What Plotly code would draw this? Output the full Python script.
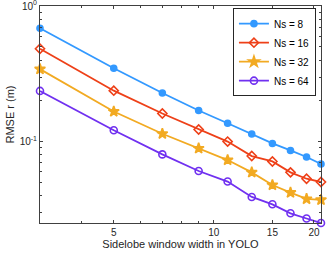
import plotly.graph_objects as go

x_vals = [3, 5, 7, 9, 11, 13, 15, 17, 19, 21]
ns8 = [0.686, 0.348, 0.229, 0.170, 0.137, 0.114, 0.0972, 0.0863, 0.0772, 0.0686]
ns16 = [0.485, 0.238, 0.1615, 0.1231, 0.1003, 0.0785, 0.0716, 0.0595, 0.0534, 0.0505]
ns32 = [0.343, 0.167, 0.1145, 0.0893, 0.0733, 0.0595, 0.0480, 0.0422, 0.0379, 0.0373]
ns64 = [0.237, 0.1216, 0.0807, 0.0609, 0.0509, 0.0392, 0.0346, 0.0297, 0.0272, 0.0252]
names = ["Ns = 8", "Ns = 16", "Ns = 32", "Ns = 64"]
x_ticks = [5, 10, 15, 20]
y_ticks = [0.1, 1]
y_ticktext = ["10<sup>-1</sup>", "10<sup>0</sup>"]

colors = ["#3399FF", "#EE4018", "#F2AA22", "#7030F0"]
symbols = ["circle", "diamond-open", "star", "circle-open"]
sizes = [6, 7, 8, 7]

fig = go.Figure()
for y, name, c, s, sz in zip([ns8, ns16, ns32, ns64], names, colors, symbols, sizes):
    fig.add_trace(go.Scatter(
        x=x_vals, y=y, name=name, mode="lines+markers",
        line=dict(color=c, width=1.8),
        marker=dict(symbol=s, size=sz, color=c, line=dict(color=c, width=1.6)),
        cliponaxis=False,
    ))

axis_common = dict(
    showline=True, linecolor="#404040", linewidth=1, mirror="allticks",
    ticks="inside", ticklen=3, tickcolor="#404040", showgrid=False, zeroline=False,
    automargin=False, ticklabeloverflow="allow",
    tickfont=dict(family="Liberation Sans, Arial", size=10, color="#262626"),
)

fig.update_xaxes(
    type="log", range=[0.47712, 1.32222], tickmode="array", tickvals=x_ticks,
    ticktext=[str(v) for v in x_ticks],
    minor=dict(tickmode="array", tickvals=[3, 4, 6, 7, 8, 9], ticks="inside", ticklen=2, tickcolor="#404040"),
    title=dict(text="Sidelobe window width in YOLO", font=dict(family="Liberation Sans, Arial", size=11, color="#262626"), standoff=2),
    **axis_common,
)
fig.update_yaxes(
    type="log", range=[-1.5986, 0.0005], tickmode="array", tickvals=y_ticks, ticktext=y_ticktext,
    minor=dict(tickmode="array", tickvals=[0.03, 0.04, 0.05, 0.06, 0.07, 0.08, 0.09, 0.2, 0.3, 0.4, 0.5, 0.6, 0.7, 0.8, 0.9],
               ticks="inside", ticklen=2, tickcolor="#404040"),
    title=dict(text="RMSE r (m)", font=dict(family="Liberation Sans, Arial", size=11, color="#262626"), standoff=2),
    **axis_common,
)

fig.update_layout(
    width=327, height=256,
    margin=dict(l=40, r=6, t=6, b=33),
    paper_bgcolor="white", plot_bgcolor="white",
    legend=dict(x=0.982, y=0.99, xanchor="right", yanchor="top",
                bgcolor="white", bordercolor="#262626", borderwidth=1,
                font=dict(family="Liberation Sans, Arial", size=10, color="#000000"),
                tracegroupgap=0, itemwidth=30),
    showlegend=True,
)

fig.write_html("out.html", config={"displayModeBar": False},
               post_script="document.body.style.margin='0';document.body.style.padding='0';")
